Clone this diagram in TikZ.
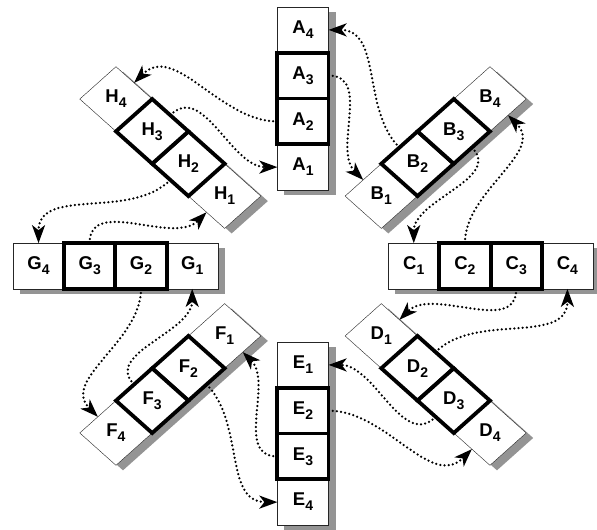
\documentclass[tikz,border=0pt]{standalone}
\usepackage{fontspec}
\setmainfont{Liberation Sans}
\usetikzlibrary{arrows.meta,%
                shapes.geometric,%
                backgrounds}
\newcommand\cellsub[1]{\raisebox{-5pt}{\fontsize{14}{14}\selectfont #1}}
\tikzstyle{slot}=[draw=black!85, thin, fill=white, font=\bfseries\fontsize{18.5}{18.5}\selectfont, inner sep=1pt, outer sep=0pt]
\tikzstyle{rslot}=[slot, rectangle, minimum width=51.2pt, minimum height=45.7pt]
\tikzstyle{dslot}=[slot, diamond, minimum width=72.4pt, minimum height=64.7pt]
\tikzstyle{core}=[draw=black, line width=3.8pt]
\tikzstyle{backdrop}=[fill=black!42, transform canvas={xshift=7pt,yshift=-5pt}]
\tikzstyle{hop}=[black, line width=2.5pt, dash pattern=on 0pt off 4.2pt, line cap=round, -{Stealth[length=18pt,width=13pt,inset=5pt,fill=black]}]

\begin{document}
\begin{tikzpicture}[x=1.12pt, y=1pt]
  \useasboundingbox (-270.5,-263) rectangle (262.5,266);
  \node[rslot] (A1) at (90:98.9) {A\cellsub{1}};
  \node[rslot] (A4) at (90:236.1) {A\cellsub{4}};
  \node[dslot] (B1) at (45:98.9) {B\cellsub{1}};
  \node[dslot] (B4) at (45:236.1) {B\cellsub{4}};
  \node[rslot] (C1) at (0:98.9) {C\cellsub{1}};
  \node[rslot] (C4) at (0:236.1) {C\cellsub{4}};
  \node[dslot] (D1) at (-45:98.9) {D\cellsub{1}};
  \node[dslot] (D4) at (-45:236.1) {D\cellsub{4}};
  \node[rslot] (E1) at (-90:98.9) {E\cellsub{1}};
  \node[rslot] (E4) at (-90:236.1) {E\cellsub{4}};
  \node[dslot] (F1) at (-135:98.9) {F\cellsub{1}};
  \node[dslot] (F4) at (-135:236.1) {F\cellsub{4}};
  \node[rslot] (G1) at (180:98.9) {G\cellsub{1}};
  \node[rslot] (G4) at (180:236.1) {G\cellsub{4}};
  \node[dslot] (H1) at (135:98.9) {H\cellsub{1}};
  \node[dslot] (H4) at (135:236.1) {H\cellsub{4}};

  \node[rslot, core] (A2) at (90:144.6) {A\cellsub{2}};
  \node[rslot, core] (A3) at (90:190.4) {A\cellsub{3}};
  \node[dslot, core] (B2) at (45:144.6) {B\cellsub{2}};
  \node[dslot, core] (B3) at (45:190.4) {B\cellsub{3}};
  \node[rslot, core] (C2) at (0:144.6) {C\cellsub{2}};
  \node[rslot, core] (C3) at (0:190.4) {C\cellsub{3}};
  \node[dslot, core] (D2) at (-45:144.6) {D\cellsub{2}};
  \node[dslot, core] (D3) at (-45:190.4) {D\cellsub{3}};
  \node[rslot, core] (E2) at (-90:144.6) {E\cellsub{2}};
  \node[rslot, core] (E3) at (-90:190.4) {E\cellsub{3}};
  \node[dslot, core] (F2) at (-135:144.6) {F\cellsub{2}};
  \node[dslot, core] (F3) at (-135:190.4) {F\cellsub{3}};
  \node[rslot, core] (G2) at (180:144.6) {G\cellsub{2}};
  \node[rslot, core] (G3) at (180:190.4) {G\cellsub{3}};
  \node[dslot, core] (H2) at (135:144.6) {H\cellsub{2}};
  \node[dslot, core] (H3) at (135:190.4) {H\cellsub{3}};

  \begin{scope}[on background layer]
    \fill[backdrop] (A1.south west) rectangle (A4.north east);
    \fill[backdrop] (B1.west) -- (B1.south) -- (B4.east) -- (B4.north) -- cycle;
    \fill[backdrop] (C1.south west) rectangle (C4.north east);
    \fill[backdrop] (D1.north) -- (D1.west) -- (D4.south) -- (D4.east) -- cycle;
    \fill[backdrop] (E4.south west) rectangle (E1.north east);
    \fill[backdrop] (F1.north) -- (F1.east) -- (F4.south) -- (F4.west) -- cycle;
    \fill[backdrop] (G4.south west) rectangle (G1.north east);
    \fill[backdrop] (H1.east) -- (H1.south) -- (H4.west) -- (H4.north) -- cycle;
  \end{scope}

  \draw[hop] (A3.east) to[out=0,in=135] (B1.north west);
  \draw[hop] (B2.north west) to[out=135,in=0] (A4.east);
  \draw[hop] (B3.south east) to[out=-45,in=90] (C1.north);
  \draw[hop] (C2.north) to[out=90,in=-45] (B4.south east);
  \draw[hop] (C3.south) to[out=-90,in=45] (D1.north east);
  \draw[hop] (D2.north east) to[out=45,in=-90] (C4.south);
  \draw[hop] (D3.south west) to[out=-135,in=0] (E1.east);
  \draw[hop] (E2.east) to[out=0,in=-135] (D4.south west);
  \draw[hop] (E3.west) to[out=180,in=-45] (F1.south east);
  \draw[hop] (F2.south east) to[out=-45,in=180] (E4.west);
  \draw[hop] (F3.north west) to[out=135,in=-90] (G1.south);
  \draw[hop] (G2.south) to[out=-90,in=135] (F4.north west);
  \draw[hop] (G3.north) to[out=90,in=-135] (H1.south west);
  \draw[hop] (H2.south west) to[out=-135,in=90] (G4.north);
  \draw[hop] (H3.north east) to[out=45,in=180] (A1.west);
  \draw[hop] (A2.west) to[out=180,in=45] (H4.north east);
\end{tikzpicture}
\end{document}
